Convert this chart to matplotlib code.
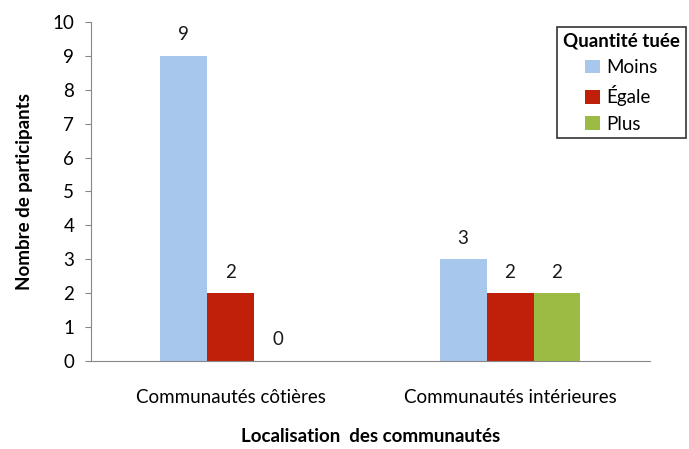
import numpy as np
import matplotlib
matplotlib.use('Agg')
import matplotlib.pyplot as plt

plt.rcParams['font.family'] = ['Lato', 'DejaVu Sans']

# Data
communautes = ['Communautés côtières', 'Communautés intérieures']
series_names = ['Moins', 'Égale', 'Plus']
moins = [9, 3]
egale = [2, 2]
plus = [0, 2]
colors = ['#a7c7ec', '#c0200a', '#9bbb44']

fig = plt.figure(figsize=(6.89, 4.49), dpi=100)
ax = fig.add_axes([0.132, 0.196, 0.811, 0.755])

x = np.arange(len(communautes)) + 0.5
width = 0.168
offsets = [-width, 0, width]
fs = 13.5

for vals, name, col, off in zip([moins, egale, plus], series_names, colors, offsets):
    bars = ax.bar(x + off, vals, width, color=col, label=name, zorder=2)
    for b, v in zip(bars, vals):
        ax.text(b.get_x() + b.get_width() / 2, v + 0.62, str(v),
                ha='center', va='center', fontsize=fs, color='#1a1a1a')

ax.set_xlim(0, 2)
ax.set_ylim(0, 10)
ax.set_yticks(range(0, 11))
ax.set_xticks(x)
ax.set_xticklabels(communautes, fontsize=fs)
ax.tick_params(axis='x', length=0, pad=20)
ax.tick_params(axis='y', direction='out', length=4, color='#878787', labelsize=fs, pad=8)

for side in ['top', 'right']:
    ax.spines[side].set_visible(False)
for side in ['left', 'bottom']:
    ax.spines[side].set_color('#878787')

ax.set_xlabel('Localisation  des communautés', fontsize=fs, fontweight='bold', labelpad=16)
ax.set_ylabel('Nombre de participants', fontsize=fs, fontweight='bold', labelpad=14)

leg = fig.legend(loc='upper right', bbox_to_anchor=(0.995, 0.94), borderaxespad=0,
                 title='Quantité tuée',
                 fontsize=fs, frameon=True, fancybox=False, edgecolor='black',
                 handlelength=0.75, handleheight=0.75, handletextpad=0.35,
                 borderpad=0.3, labelspacing=0.5, alignment='center')
leg.get_title().set_fontweight('bold')
leg.get_title().set_fontsize(fs)
leg.get_frame().set_linewidth(1.2)

fig.savefig('out.png', dpi=100)
